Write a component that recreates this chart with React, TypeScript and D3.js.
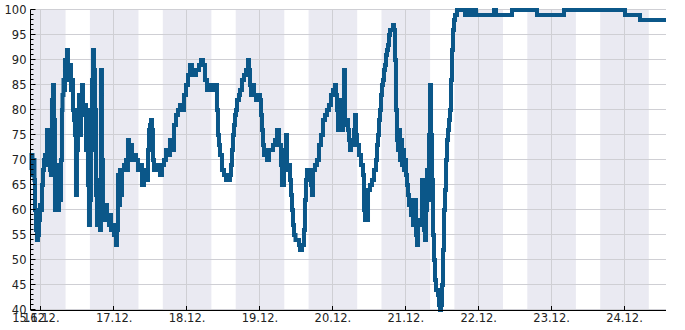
import React from "react";
import * as d3 from "d3";

// ---- data (hours relative to 16.12. 00:00, relative humidity %) ----
const startHour = -3.55;
const endHour = 205.66;
const yTickValues = [40, 45, 50, 55, 60, 65, 70, 75, 80, 85, 90, 95, 100];
const nightBands: [number, number][] = [
  [-3.55, 8], [16, 32], [40, 56], [64, 80], [88, 104], [112, 128], [136, 152], [160, 176], [184, 200],
];
const readings: [number, number][] = [
  [-3.56, 68], [-3.23, 71], [-2.9, 67], [-2.57, 70], [-2.24, 66], [-2.07, 60], [-1.74, 56], [-1.42, 54],
  [-1.09, 55], [-0.76, 58], [-0.43, 61], [-0.1, 60], [0.23, 65], [0.56, 68], [0.89, 70], [1.22, 71],
  [1.55, 69], [1.88, 76], [2.21, 70], [2.53, 76], [2.86, 68], [3.19, 67], [3.52, 82], [3.85, 85],
  [4.18, 78], [4.51, 60], [4.84, 60], [5.17, 68], [5.5, 60], [5.83, 69], [6.16, 62], [6.49, 70],
  [6.81, 80], [6.98, 83], [7.31, 86], [7.64, 84], [7.8, 90], [8.13, 88], [8.46, 92], [8.79, 89],
  [9.12, 86], [9.45, 89], [9.78, 84], [10.11, 86], [10.44, 80], [10.77, 78], [11.09, 75], [11.42, 63],
  [11.75, 72], [12.08, 80], [12.41, 83], [12.74, 75], [13.07, 80], [13.4, 85], [13.73, 79], [14.06, 81],
  [14.39, 81], [14.72, 72], [15.05, 80], [15.37, 65], [15.7, 57], [16.03, 62], [16.36, 72], [16.69, 86],
  [17.02, 92], [17.35, 88], [17.68, 80], [18.01, 63], [18.34, 57], [18.67, 60], [19.0, 66], [19.33, 56],
  [19.65, 88], [19.98, 70], [20.31, 58], [20.64, 60], [20.97, 58], [21.3, 61], [21.63, 58], [22.29, 57],
  [22.62, 59], [22.95, 56], [23.28, 57], [23.93, 55], [24.26, 57], [24.59, 53], [24.92, 56], [25.25, 67],
  [25.58, 61], [25.91, 68], [26.24, 63], [26.57, 68], [27.23, 69], [27.88, 70], [28.21, 68], [28.54, 74],
  [28.87, 72], [29.2, 73], [29.86, 70], [30.52, 71], [31.18, 70], [31.83, 68], [32.49, 69], [33.15, 65],
  [33.81, 68], [34.47, 66], [35.13, 72], [35.46, 76], [35.79, 77], [36.12, 78], [36.45, 76], [36.77, 70],
  [37.1, 68], [37.76, 68], [38.42, 69], [39.08, 67], [39.74, 69], [40.4, 70], [41.05, 72], [41.71, 71],
  [42.37, 74], [43.03, 72], [43.69, 77], [44.35, 79], [45.0, 80], [45.66, 81], [46.32, 80], [46.98, 83],
  [47.64, 85], [48.3, 87], [48.95, 89], [49.61, 88], [50.27, 87], [50.93, 88], [51.92, 89], [52.58, 90],
  [53.23, 89], [53.89, 86], [54.55, 84], [55.21, 85], [55.87, 85], [56.53, 84], [57.18, 85], [57.84, 80],
  [58.17, 75], [58.5, 73], [58.83, 71], [59.49, 68], [60.15, 67], [60.81, 66], [61.47, 66], [62.12, 67],
  [62.45, 69], [62.78, 72], [63.11, 75], [63.44, 77], [63.77, 79], [64.1, 80], [64.43, 82], [65.09, 83],
  [65.42, 84], [66.07, 86], [66.73, 87], [67.39, 88], [68.05, 90], [68.38, 88], [68.71, 85], [69.04, 83],
  [69.37, 85], [70.03, 83], [70.69, 82], [71.35, 83], [72.0, 82], [72.33, 79], [72.66, 76], [72.99, 73],
  [73.32, 71], [73.65, 72], [74.31, 70], [74.97, 72], [75.62, 72], [76.28, 73], [76.94, 74], [77.6, 76],
  [78.26, 73], [78.91, 69], [79.24, 65], [79.9, 70], [80.23, 72], [80.56, 75], [80.89, 68], [81.55, 69],
  [81.88, 66], [82.21, 63], [82.54, 60], [82.87, 57], [83.2, 55], [83.69, 54], [84.18, 54], [84.84, 53],
  [85.17, 52], [85.83, 53], [86.48, 56], [86.81, 62], [87.14, 66], [87.47, 68], [87.8, 66], [88.13, 68],
  [88.46, 68], [88.79, 65], [89.12, 63], [89.45, 68], [90.1, 69], [90.76, 70], [91.42, 73], [92.08, 75],
  [92.74, 78], [93.4, 79], [94.05, 80], [94.71, 81], [95.37, 83], [96.03, 84], [96.69, 85], [97.02, 83],
  [97.35, 80], [97.68, 76], [98.01, 80], [98.34, 78], [98.67, 82], [99.0, 76], [99.33, 80], [99.65, 88],
  [99.98, 77], [100.31, 78], [100.97, 76], [101.3, 74], [101.63, 72], [101.96, 74], [102.62, 73], [102.95, 76],
  [103.28, 79], [103.6, 75], [103.93, 73], [104.59, 71], [105.25, 69], [105.91, 67], [106.24, 60], [106.57, 58],
  [106.9, 62], [107.23, 58], [107.56, 64], [108.21, 65], [108.87, 66], [109.53, 68], [110.19, 70], [110.52, 73],
  [110.85, 75], [111.18, 78], [111.51, 80], [111.84, 83], [112.16, 85], [112.49, 86], [112.82, 88], [113.15, 89],
  [113.48, 91], [113.81, 92], [114.14, 93], [114.47, 95], [114.8, 96], [115.46, 96], [115.79, 97], [116.11, 96],
  [116.44, 90], [116.77, 80], [117.1, 74], [117.43, 72], [117.76, 76], [118.09, 70], [118.42, 74], [118.75, 69],
  [119.08, 72], [119.41, 68], [119.74, 70], [120.07, 67], [120.4, 65], [120.72, 63], [121.05, 61], [121.38, 62],
  [121.71, 59], [122.04, 61], [122.37, 57], [122.7, 60], [123.03, 62], [123.36, 55], [123.69, 53], [124.02, 58],
  [124.35, 57], [124.68, 58], [125.0, 58], [125.33, 66], [125.66, 62], [125.99, 56], [126.32, 54], [126.65, 60],
  [126.98, 68], [127.31, 62], [127.64, 75], [127.97, 85], [128.3, 75], [128.63, 66], [128.95, 55], [129.28, 50],
  [129.61, 46], [129.94, 44], [130.27, 44], [130.6, 43], [130.93, 41], [131.26, 40], [131.59, 41], [131.92, 45],
  [132.25, 52], [132.58, 60], [132.91, 64], [133.24, 70], [133.57, 74], [133.9, 76], [134.23, 78], [134.55, 80],
  [134.88, 86], [135.21, 92], [135.54, 96], [135.87, 98], [136.2, 99], [136.86, 100], [139.49, 99], [140.15, 100],
  [140.48, 99], [141.14, 100], [141.8, 99], [142.79, 100], [143.12, 99], [149.04, 100], [149.7, 99], [154.96, 100],
  [163.19, 99], [172.08, 100], [192.16, 99], [197.1, 98], [205.66, 98],
];

const base = new Date(2020, 11, 16, 0, 0, 0);
const at = (h: number) => new Date(base.getTime() + h * 3600000);

export default function App() {
  const W = 685, H = 330;
  const left = 30.5, right = 666, top = 10, bottom = 310;
  const x = d3.scaleTime().domain([at(startHour), at(endHour)]).range([left, right]);
  const y = d3.scaleLinear().domain([40, 100]).range([bottom, top]);
  const fmt = d3.timeFormat("%d.%m.");
  const dayTicks = d3.timeDay.range(d3.timeDay.ceil(at(startHour)), at(endHour));
  const minorY = d3.range(40, 101, 1).filter((v) => v % 5 !== 0);
  const line = d3
    .line<[number, number]>()
    .x((d) => x(at(d[0])))
    .y((d) => y(d[1]))
    .curve(d3.curveStepAfter);
  const crisp = (v: number) => Math.round(v) + 0.5;
  const font = "DejaVu Sans, sans-serif";
  return (
    <svg width={W} height={H} style={{ position: "absolute", left: 0, top: 0, background: "#fff" }}>
      {nightBands.map(([a, b], i) => (
        <rect key={i} x={x(at(a))} y={top} width={x(at(b)) - x(at(a))} height={bottom - top} fill="#eaeaf2" />
      ))}
      {yTickValues.map((v) => (
        <line key={v} x1={left} x2={right} y1={crisp(y(v)) - 1} y2={crisp(y(v)) - 1} stroke="#cfcfd4" strokeWidth={1} />
      ))}
      {dayTicks.map((d, i) => (
        <line key={i} x1={crisp(x(d)) - 1} x2={crisp(x(d)) - 1} y1={top} y2={bottom} stroke="#cfcfd4" strokeWidth={1} />
      ))}
      <path d={line(readings) || ""} fill="none" stroke="#0b5789" strokeWidth={4} />
      <line x1={left} x2={left} y1={top - 0.5} y2={bottom} stroke="#000" strokeWidth={1} />
      <line x1={left} x2={right} y1={bottom + 0.5} y2={bottom + 0.5} stroke="#000" strokeWidth={1} />
      {yTickValues.map((v) => (
        <g key={v}>
          <line x1={left} x2={left + 5} y1={crisp(y(v)) - 1} y2={crisp(y(v)) - 1} stroke="#000" />
          <text x={26.5} y={y(v)} dy="0.36em" textAnchor="end" fontFamily={font} fontSize={11.5} fill="#222">
            {v}
          </text>
        </g>
      ))}
      {minorY.map((v) => (
        <line key={v} x1={left} x2={left + 3} y1={crisp(y(v)) - 1} y2={crisp(y(v)) - 1} stroke="#000" />
      ))}
      <text x={left} y={322} textAnchor="middle" fontFamily={font} fontSize={11.5} fill="#222">
        {fmt(at(startHour))}
      </text>
      {dayTicks.map((d, i) => (
        <g key={i}>
          <line x1={crisp(x(d)) - 1} x2={crisp(x(d)) - 1} y1={bottom} y2={bottom - 4} stroke="#000" />
          <text x={x(d)} y={322} textAnchor="middle" fontFamily={font} fontSize={11.5} fill="#222">
            {fmt(d)}
          </text>
        </g>
      ))}
    </svg>
  );
}
